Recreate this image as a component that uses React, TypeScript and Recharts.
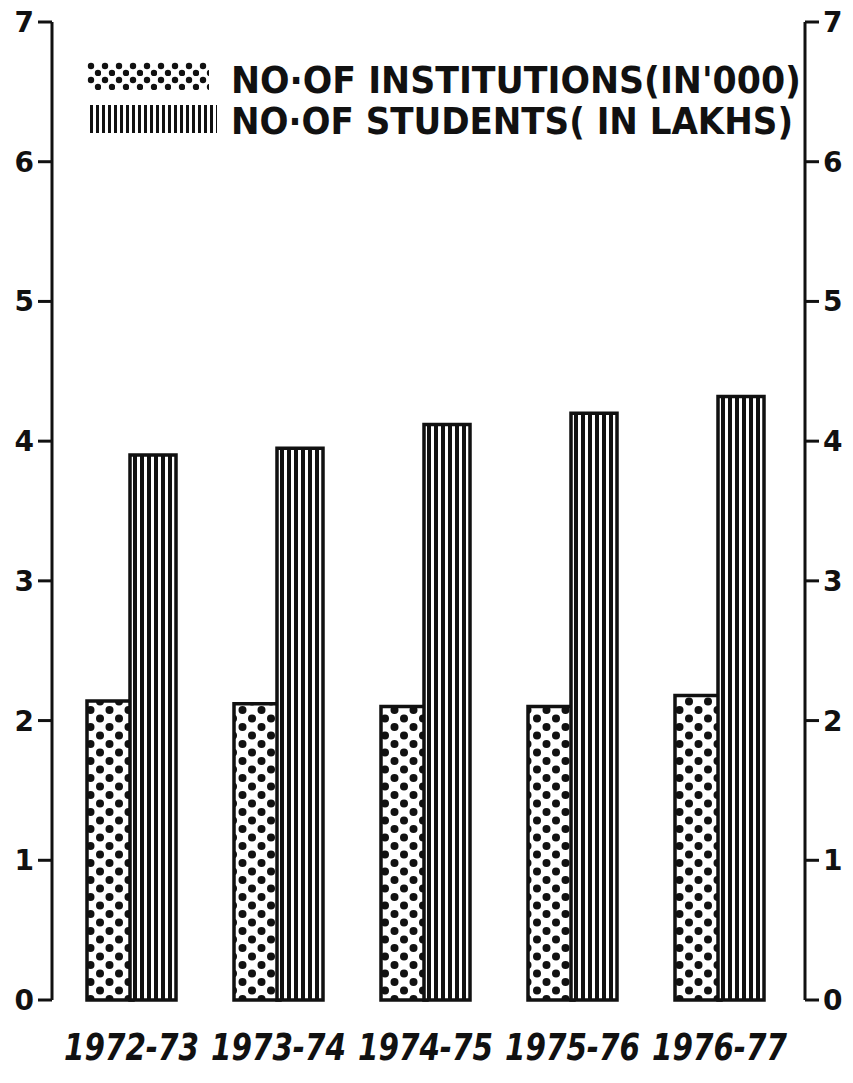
import { Bar, BarChart, Legend, XAxis, YAxis } from "recharts";

const years = ["1972-73", "1973-74", "1974-75", "1975-76", "1976-77"];
const institutions = [2.14, 2.12, 2.1, 2.1, 2.18];
const students = [3.9, 3.95, 4.12, 4.2, 4.32];
const yTicks = [0, 1, 2, 3, 4, 5, 6, 7];
const seriesNames = ["NO·OF INSTITUTIONS(IN'000)", "NO·OF STUDENTS( IN LAKHS)"];

const data = years.map((year, i) => ({
  year,
  institutions: institutions[i],
  students: students[i],
}));

const FONT = "'DejaVu Sans', sans-serif";
const INK = "#111";

function YearTick({ x, y, payload }: any) {
  return (
    <text
      x={x}
      y={y + 58}
      textAnchor="middle"
      fontFamily="'DejaVu Sans Condensed', 'DejaVu Sans', sans-serif"
      fontSize={38}
      fontWeight="bold"
      fontStyle="italic"
      textLength={135}
      lengthAdjust="spacingAndGlyphs"
      fill={INK}
    >
      {payload.value}
    </text>
  );
}

function LegendBox({ payload }: any) {
  const rows = [
    { y: 93, swatchY: 62, swatchW: 122, textLen: 570 },
    { y: 134, swatchY: 105, swatchW: 130, textLen: 562 },
  ];
  return (
    <svg width={853} height={145} style={{ display: "block" }}>
      {(payload || []).map((entry: any, i: number) => {
        const r = rows[i] || rows[0];
        const fill = entry.dataKey === "students" ? "url(#stripesLegend)" : "url(#dotsLegend)";
        return (
          <g key={entry.value}>
            <rect x={87} y={r.swatchY} width={r.swatchW} height={28} fill={fill} />
            <text
              x={231}
              y={r.y}
              fontFamily="'DejaVu Sans Condensed', 'DejaVu Sans', sans-serif"
              fontSize={38}
              fontWeight="bold"
              textLength={r.textLen}
              lengthAdjust="spacingAndGlyphs"
              fill={INK}
            >
              {entry.value}
            </text>
          </g>
        );
      })}
    </svg>
  );
}

export default function App() {
  const axisLine = { stroke: INK, strokeWidth: 3 };
  const tickStyle = { fontSize: 28, fontWeight: "bold", fill: INK, fontFamily: FONT };

  return (
    <div style={{ position: "absolute", left: 0, top: 0, width: 853, height: 1083, background: "#fff" }}>
      <BarChart
        width={853}
        height={1083}
        data={data}
        margin={{ top: 22, right: 0, bottom: 23, left: 0 }}
        barSize={46}
        barGap={-3}
      >
        <defs>
          <pattern id="dots" width={19} height={17} patternUnits="userSpaceOnUse">
            <rect width={19} height={17} fill="#fff" />
            <circle cx={5} cy={4.5} r={4} fill={INK} />
            <circle cx={14.5} cy={13} r={4} fill={INK} />
          </pattern>
          <pattern id="dotsLegend" width={14} height={14} patternUnits="userSpaceOnUse" x={87} y={62}>
            <rect width={14} height={14} fill="#fff" />
            <circle cx={4} cy={4} r={3.2} fill={INK} />
            <circle cx={11} cy={11} r={3.2} fill={INK} />
          </pattern>
          <pattern id="stripes" width={7} height={10} patternUnits="userSpaceOnUse">
            <rect width={7} height={10} fill="#fff" />
            <rect width={4} height={10} fill={INK} />
          </pattern>
          <pattern id="stripesLegend" width={6} height={10} patternUnits="userSpaceOnUse">
            <rect width={6} height={10} fill="#fff" />
            <rect width={3} height={10} fill={INK} />
          </pattern>
        </defs>
        <XAxis
          dataKey="year"
          axisLine={false}
          tickLine={false}
          tickSize={0}
          height={60}
          padding={{ left: 6, right: 12 }}
          tick={<YearTick />}
          interval={0}
        />
        <YAxis
          yAxisId="left"
          domain={[0, 7]}
          ticks={yTicks}
          width={52}
          axisLine={axisLine}
          tickLine={axisLine}
          tickSize={14}
          tickMargin={4}
          tick={tickStyle}
        />
        <YAxis
          yAxisId="right"
          orientation="right"
          domain={[0, 7]}
          ticks={yTicks}
          width={48}
          axisLine={axisLine}
          tickLine={axisLine}
          tickSize={14}
          tickMargin={4}
          tick={tickStyle}
        />
        <Legend
          layout="vertical"
          align="center"
          verticalAlign="middle"
          wrapperStyle={{ top: 0, left: 0, width: 853, height: 145 }}
          content={<LegendBox />}
        />
        <Bar
          yAxisId="left"
          dataKey="institutions"
          name={seriesNames[0]}
          fill="url(#dots)"
          stroke={INK}
          strokeWidth={3.5}
          isAnimationActive={false}
        />
        <Bar
          yAxisId="right"
          dataKey="students"
          name={seriesNames[1]}
          fill="url(#stripes)"
          stroke={INK}
          strokeWidth={3.5}
          isAnimationActive={false}
        />
      </BarChart>
    </div>
  );
}
